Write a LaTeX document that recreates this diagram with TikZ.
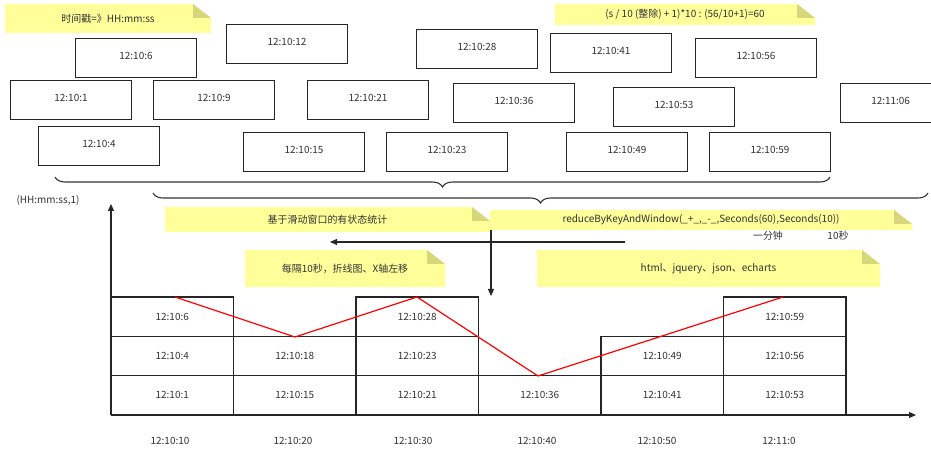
\documentclass[tikz,border=0pt]{standalone}
\usepackage{fontspec}
\setmainfont{Noto Sans CJK SC}
\usetikzlibrary{decorations.pathreplacing,arrows.meta}
\definecolor{noteY}{HTML}{FFFF99}
\definecolor{noteF}{HTML}{D6D67A}
\tikzset{
  tbox/.style={draw=black!85,line width=1.3pt,minimum width=121bp,minimum height=39bp,inner sep=0pt,font=\fontsize{10}{11}\selectfont,text=black!80},
  gbox/.style={draw=black!85,line width=1.3pt,minimum width=122.5bp,minimum height=39.3bp,inner sep=0pt,font=\fontsize{10}{11}\selectfont,text=black!80},
  lbl/.style={font=\fontsize{10}{11}\selectfont,text=black!80,inner sep=0pt},
  arr/.style={line width=1.1pt,draw=black!85,-{Triangle[length=7bp,width=6bp]}},
  brc/.style={line width=1.1pt,draw=black!80,decorate,decoration={brace,amplitude=10bp}}
}
\newcommand{\mynote}[6]{%
  \fill[noteY] (#1,#2) -- (#3-18,#2) -- (#3,#2+14) -- (#3,#4) -- (#1,#4) -- cycle;
  \fill[noteF] (#3-18,#2) -- (#3,#2+14) -- (#3-18,#2+14) -- cycle;
  \node[lbl] (#6) at ({(#1+#3)/2},{(#2+#4)/2}) {#5};}
\begin{document}
\begin{tikzpicture}[x=1bp,y=-1bp]
\useasboundingbox (0,0) rectangle (931,464);
% notes
\mynote{5}{4}{211}{33}{时间戳=》HH:mm:ss}{n1}
\mynote{555}{4}{815}{25}{(s / 10 (整除) + 1)*10 : (56/10+1)=60}{n2}
\mynote{165}{207}{490}{232}{基于滑动窗口的有状态统计}{n3}
\mynote{490}{210}{912}{230}{reduceByKeyAndWindow(\_+\_,\_-\_,Seconds(60),Seconds(10))}{n4}
\mynote{245}{250}{445}{287}{每隔10秒，折线图、X轴左移}{n5}
\mynote{537}{250}{880}{287}{html、jquery、json、echarts}{n6}
% top boxes
\foreach \t/\x/\y/\n in {12:10:6/136/58/a1,12:10:12/287/44/a2,12:10:28/477/49/a3,12:10:41/611/53/a4,12:10:56/756/58/a5,
  12:10:1/71/100/b1,12:10:9/214/100/b2,12:10:21/368/100/b3,12:10:36/514/103/b4,12:10:53/674/107/b5,
  12:10:4/99/146/c1,12:10:15/304/152/c2,12:10:23/447/152/c3,12:10:49/627/152/c4,12:10:59/770/152/c5}
  \node[tbox] (\n) at (\x,\y) {\raisebox{4bp}{\t}};
\node[tbox,minimum width=100bp,anchor=west] (b6) at (840,103) {\raisebox{4bp}{12:11:06}};
% braces
\draw[brc,decoration={mirror}] (55,177) -- (830,177);
\draw[brc,decoration={mirror}] (153,193) -- (928,193);
\node[lbl] (yl) at (48,200) {(HH:mm:ss,1)};
\node[lbl] (m1) at (768,236) {一分钟};
\node[lbl] (m2) at (838,236) {10秒};
% axes
\coordinate (o) at (111,415);
\coordinate (yt) at (111,204);
\coordinate (xt) at (916,415);
\draw[arr] (o) -- (yt);
\draw[arr] (o) -- (xt);
\coordinate (h1) at (625,242);
\coordinate (h2) at (330,242);
\draw[arr] (h1) -- (h2);
\coordinate (v1) at (491,230);
\coordinate (v2) at (491,296);
\draw[arr] (v1) -- (v2);
% grid
\foreach \t/\c/\r/\n in {12:10:6/0/0/g1,12:10:4/0/1/g2,12:10:1/0/2/g3,12:10:18/1/1/g4,12:10:15/1/2/g5,
  12:10:28/2/0/g6,12:10:23/2/1/g7,12:10:21/2/2/g8,12:10:36/3/2/g9,12:10:49/4/1/g10,12:10:41/4/2/g11,
  12:10:59/5/0/g12,12:10:56/5/1/g13,12:10:53/5/2/g14}
  \node[gbox] (\n) at ({172.25+122.5*\c},{316.6+39.3*\r}) {\t};
\draw[red,line width=1.2pt] (175,297) -- (295,337) -- (417,297) -- (538,376) -- (783,297);
\foreach \t/\x/\n in {12:10:10/170/x1,12:10:20/293/x2,12:10:30/413/x3,12:10:40/537/x4,12:10:50/657/x5,12:11:0/779/x6}
  \node[lbl] (\n) at (\x,441) {\t};
\end{tikzpicture}
\end{document}
